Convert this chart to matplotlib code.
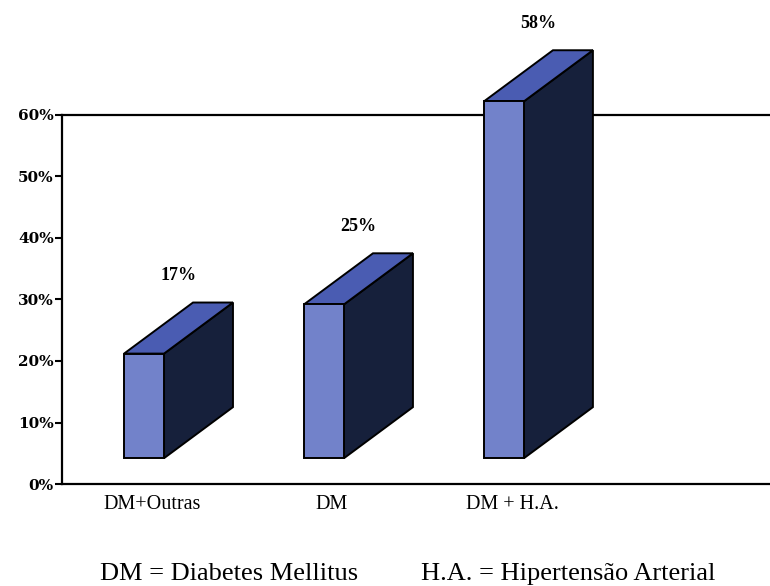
import matplotlib
matplotlib.use("Agg")
import matplotlib.pyplot as plt
import matplotlib.transforms as mtransforms
from matplotlib.patches import Polygon

categorias = ["DM+Outras", "DM", "DM + H.A."]
valores = [17, 25, 58]
rotulos = ["17%", "25%", "58%"]
yticks = [0, 10, 20, 30, 40, 50, 60]
ytick_labels = ["0%", "10%", "20%", "30%", "40%", "50%", "60%"]

plt.rcParams["font.family"] = ["Liberation Serif", "DejaVu Serif"]

# caixa 3D: face frontal, topo e lateral escura
FRENTE = "#7282ca"
TOPO = "#4a5cb2"
LADO = "#16203b"
LARG = 0.222      # largura da face frontal
PROF_X = 0.383    # profundidade em x
PROF_Y = 8.3      # profundidade em y (%)
BASE = 4.2        # as caixas "flutuam" acima do eixo


def caixa(ax, x, v):
    x0, x1 = x - LARG / 2, x + LARG / 2
    y0, y1 = BASE, BASE + v
    kw = dict(edgecolor="black", linewidth=1.4, zorder=3, clip_on=False,
              joinstyle="miter")
    ax.add_patch(Polygon([(x1, y0), (x1 + PROF_X, y0 + PROF_Y),
                          (x1 + PROF_X, y1 + PROF_Y), (x1, y1)],
                         facecolor=LADO, **kw))
    ax.add_patch(Polygon([(x0, y1), (x1, y1), (x1 + PROF_X, y1 + PROF_Y),
                          (x0 + PROF_X, y1 + PROF_Y)], facecolor=TOPO, **kw))
    ax.add_patch(Polygon([(x0, y0), (x1, y0), (x1, y1), (x0, y1)],
                         facecolor=FRENTE, **kw))


fig = plt.figure(figsize=(7.7, 5.86), dpi=100)
ax = fig.add_axes([0.0805, 0.174, 0.9195, 0.630])

for i, (v, r) in enumerate(zip(valores, rotulos)):
    caixa(ax, i, v)
    ax.annotate(r, (i + PROF_X / 2, BASE + v + PROF_Y), xytext=(0, 13),
                textcoords="offset points", ha="center", va="bottom",
                fontsize=13, fontweight="bold", annotation_clip=False)

ax.set_xlim(-0.456, 3.478)
ax.set_ylim(0, 60)
ax.set_yticks(yticks)
ax.set_yticklabels(ytick_labels, fontsize=11, fontweight="bold",
                   family="DejaVu Serif")
ax.set_xticks(range(len(categorias)))
ax.set_xticklabels(categorias, fontsize=14.5)
ax.tick_params(axis="x", length=0, pad=8)
ax.tick_params(axis="y", length=5, width=1.5, pad=1)

# rótulos das categorias um pouco à direita do centro da face frontal
desloc = mtransforms.ScaledTranslation(8 / 100, 0, fig.dpi_scale_trans)
for lbl in ax.get_xticklabels():
    lbl.set_transform(lbl.get_transform() + desloc)

ax.spines["right"].set_visible(False)
for s in ("left", "bottom", "top"):
    ax.spines[s].set_linewidth(1.6)

fig.text(0.298, 0.0102, "DM = Diabetes Mellitus", ha="center",
         va="baseline", fontsize=19)
fig.text(0.738, 0.0102, "H.A. = Hipertensão Arterial", ha="center",
         va="baseline", fontsize=19)

fig.savefig("out.png", dpi=100)
